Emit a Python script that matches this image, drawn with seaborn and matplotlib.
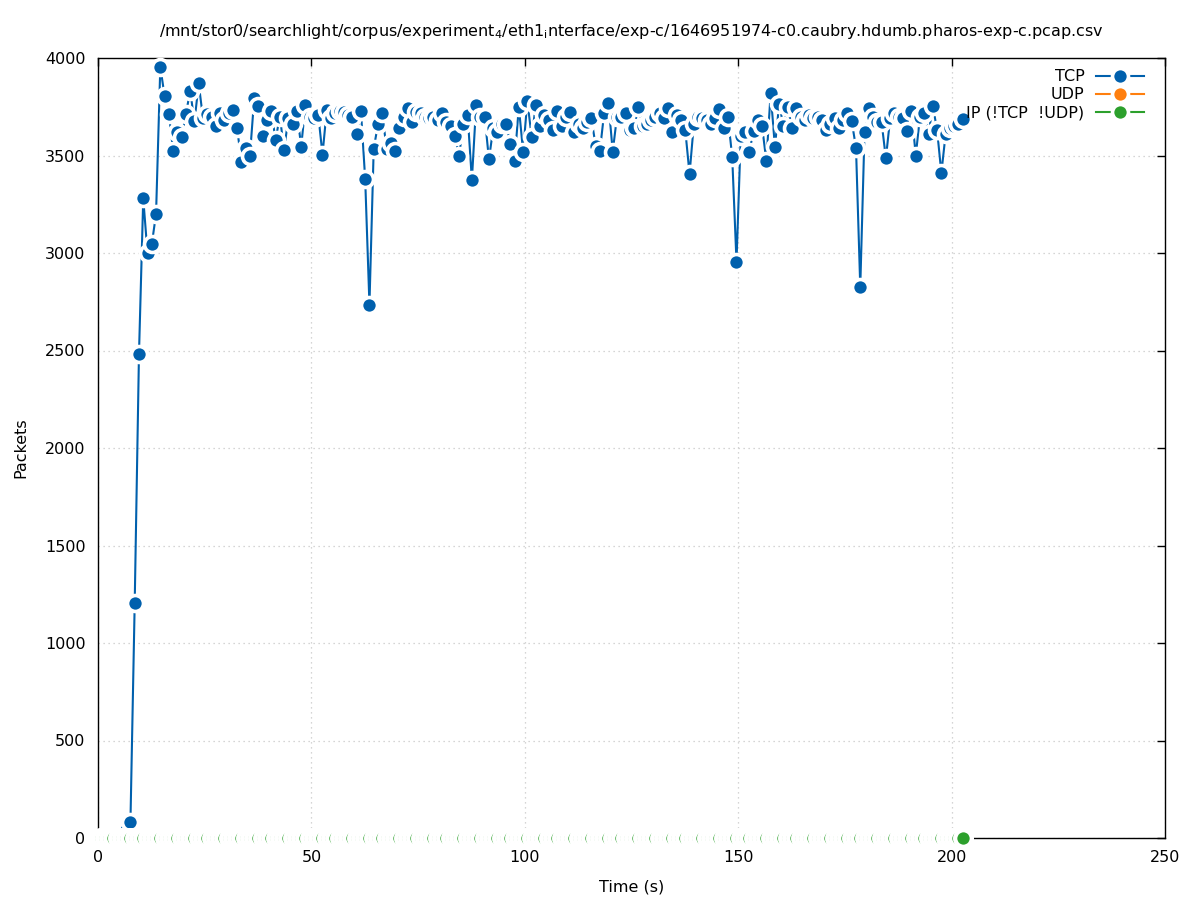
import matplotlib
matplotlib.use("Agg")
import matplotlib.pyplot as plt
import numpy as np
import pandas as pd
import seaborn as sns

# packet counts per second
tcp_start = 6.6
tcp_packets = [
    40, 80, 1205, 2480, 3280, 3000, 3045, 3200, 3955, 3805,
    3715, 3525, 3620, 3595, 3715, 3830, 3675, 3870, 3690, 3715,
    3700, 3650, 3720, 3680, 3720, 3735, 3640, 3465, 3540, 3500,
    3795, 3755, 3600, 3680, 3730, 3580, 3700, 3530, 3690, 3660,
    3730, 3545, 3760, 3700, 3690, 3710, 3505, 3735, 3690, 3720,
    3730, 3725, 3710, 3700, 3610, 3730, 3380, 2735, 3535, 3660,
    3720, 3535, 3565, 3525, 3640, 3700, 3745, 3670, 3725, 3720,
    3700, 3690, 3700, 3680, 3720, 3670, 3650, 3600, 3500, 3660,
    3710, 3375, 3760, 3700, 3700, 3480, 3640, 3620, 3660, 3660,
    3560, 3470, 3750, 3520, 3780, 3595, 3760, 3650, 3710, 3680,
    3630, 3730, 3650, 3700, 3725, 3620, 3660, 3640, 3670, 3690,
    3550, 3525, 3720, 3770, 3520, 3700, 3700, 3720, 3630, 3640,
    3750, 3650, 3660, 3680, 3700, 3720, 3690, 3745, 3620, 3710,
    3680, 3630, 3405, 3660, 3700, 3690, 3680, 3660, 3690, 3740,
    3640, 3700, 3490, 2955, 3600, 3620, 3520, 3625, 3680, 3650,
    3470, 3820, 3545, 3765, 3650, 3750, 3640, 3745, 3700, 3680,
    3710, 3690, 3700, 3680, 3630, 3660, 3690, 3640, 3680, 3720,
    3675, 3540, 2825, 3620, 3745, 3700, 3670, 3670, 3485, 3690,
    3720, 3700, 3690, 3625, 3730, 3500, 3700, 3720, 3610, 3755,
    3630, 3410, 3610, 3640, 3650, 3660, 3685,
]

# UDP and other IP traffic stay at zero for the whole capture
ip_start = 0.6
n_ip = 203
udp_packets = [0] * n_ip
ip_other_packets = [0] * n_ip

series_names = ["TCP", "UDP", "IP (!TCP  !UDP)"]
series_colors = ["#0060ad", "#ff7f0e", "#2ca02c"]

title = (r"/mnt/stor0/searchlight/corpus/experiment$_4$/eth1$_\mathrm{i}$nterface"
         "/exp-c/1646951974-c0.caubry.hdumb.pharos-exp-c.pcap.csv")

tcp_df = pd.DataFrame({"time": tcp_start + np.arange(len(tcp_packets)), "packets": tcp_packets})
ip_time = ip_start + np.arange(n_ip)
udp_df = pd.DataFrame({"time": ip_time, "packets": udp_packets})
ip_df = pd.DataFrame({"time": ip_time, "packets": ip_other_packets})

plt.rcParams["font.family"] = ["DejaVu Sans"]
plt.rcParams["font.size"] = 11.5

fig = plt.figure(figsize=(11.97, 9.0), dpi=100)
ax = fig.add_axes([98 / 1197, 1 - 838 / 900, (1165 - 98) / 1197, (838 - 58) / 900])

point_style = dict(marker="o", linewidth=1.5, clip_on=False, zorder=3,
                   markeredgecolor="white")
# zero rows sit 1 s apart, a wider white ring hides all but slivers of them
ring = [(11.5, 2.6), (12.0, 3.1), (12.0, 3.1)]

for df, name, color, (ms, mew) in zip([tcp_df, udp_df, ip_df], series_names,
                                      series_colors, ring):
    sns.lineplot(data=df, x="time", y="packets", ax=ax, color=color, label=name,
                 sort=False, markersize=ms, markeredgewidth=mew, **point_style)

ax.set_xlim(0, 250)
ax.set_ylim(0, 4000)
ax.set_xticks(np.arange(0, 251, 50))
ax.set_yticks(np.arange(0, 4001, 500))
ax.grid(True, color="#c8c8c8", linestyle=(0, (1, 3)), linewidth=0.9)
ax.set_axisbelow(True)
for sp in ax.spines.values():
    sp.set_color("black")
    sp.set_linewidth(1.0)
ax.tick_params(axis="both", direction="in", length=6, width=1.0,
               left=False, bottom=False, top=True, right=True, pad=9)

ax.set_xlabel("Time (s)", labelpad=10)
ax.set_ylabel("Packets", labelpad=12)
ax.set_title(title, fontsize=11.5, pad=16)

leg = ax.legend(loc="upper right", bbox_to_anchor=(1 - 7 / 1067, 1 + 3 / 780),
                frameon=False, markerfirst=False,
                handlelength=3.0, handletextpad=0.7, labelspacing=0.18,
                borderaxespad=0.4, borderpad=0.5)
for h in leg.legend_handles:
    h.set_markersize(11.5)
    h.set_markeredgewidth(2.6)

fig.savefig("out.png", dpi=100)
